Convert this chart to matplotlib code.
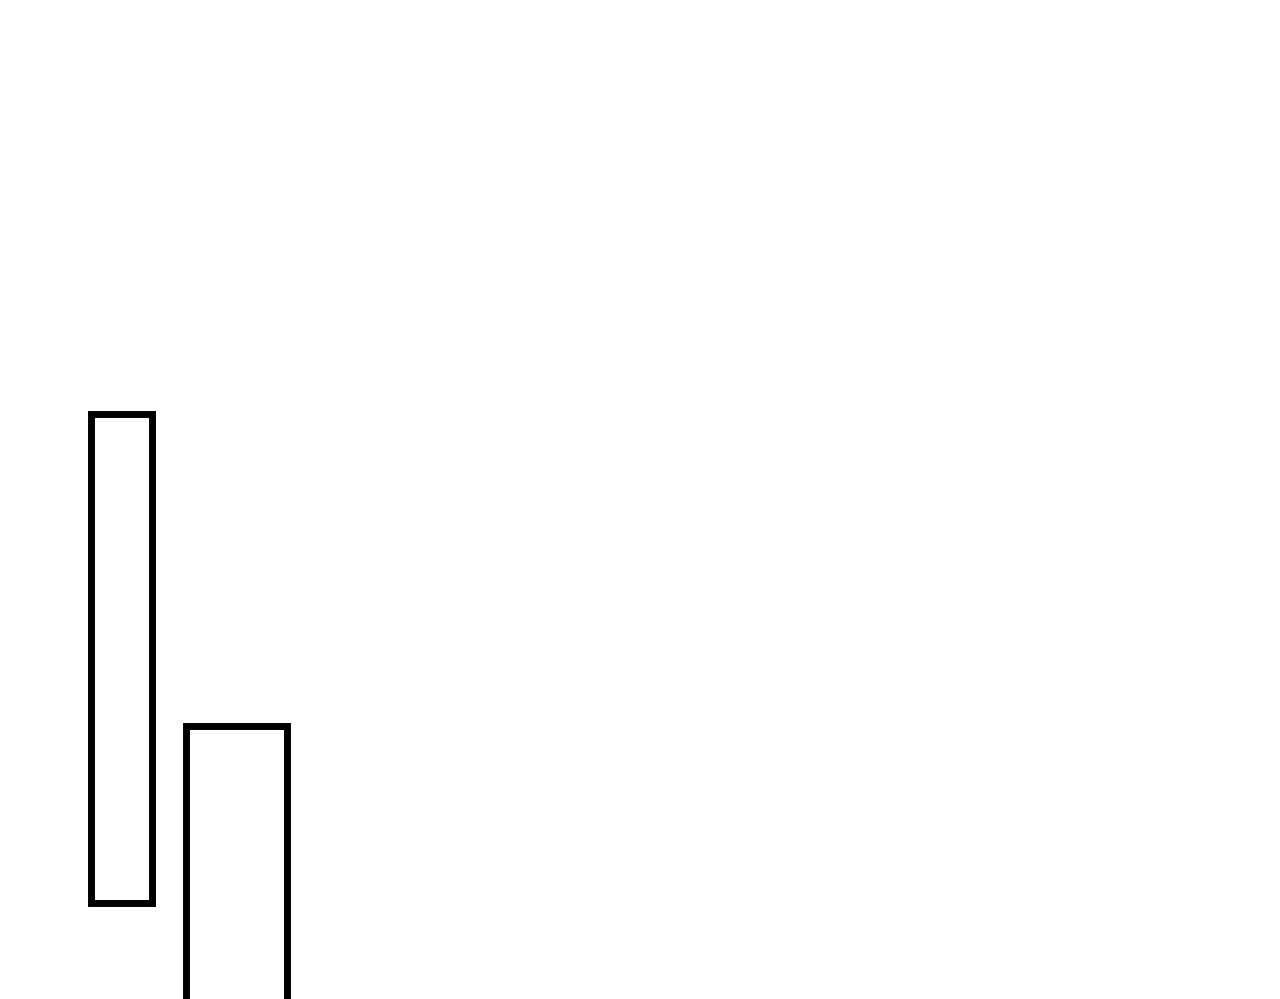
import matplotlib
matplotlib.use("Agg")
import matplotlib.pyplot as plt

# two outlined bars, axes hidden, figure-sized data space
bar_left = [90.5, 185.5]
bar_width = [61, 101]
bar_bottom = [96, -30]
bar_height = [489, 303.5]

fig = plt.figure(figsize=(12.8, 9.99), dpi=100)
ax = fig.add_axes([0, 0, 1, 1])
ax.bar(bar_left, bar_height, width=bar_width, bottom=bar_bottom, align='edge',
       facecolor='white', edgecolor='black', linewidth=5.0, joinstyle='miter')
ax.set_xlim(0, 1280)
ax.set_ylim(0, 999)
ax.axis('off')
fig.savefig('out.png', dpi=100, facecolor='white')
